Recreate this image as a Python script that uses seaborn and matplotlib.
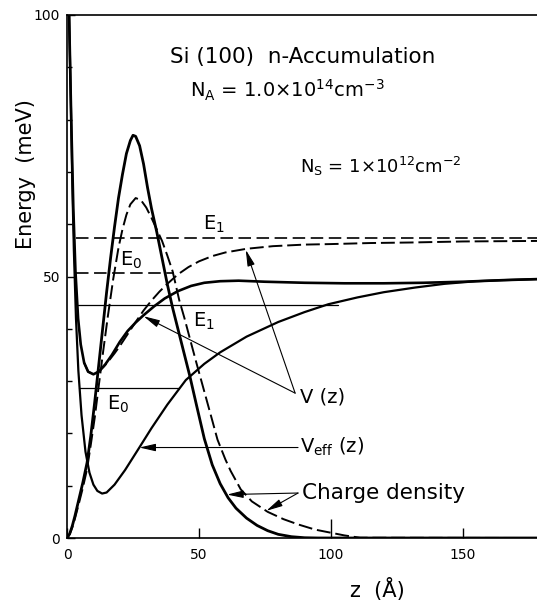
import matplotlib
matplotlib.use("Agg")
import matplotlib.pyplot as plt
import seaborn as sns

# --- data (z in Angstrom, energy in meV) ---
veff_z = [0.8, 1.5, 2.0, 2.6, 3.4, 4.3, 5.5, 7.0, 8.5, 10, 11.5, 13.3, 15, 18, 22, 27.4,
          32, 38, 45, 52, 58, 68, 80, 90, 99, 110, 120, 132, 143, 155, 165, 178]
veff_E = [100, 82, 68, 55, 42, 32, 23.5, 16.5, 12.5, 10.2, 9.0, 8.5, 8.7, 10.2, 13.0, 17.3,
          21.0, 25.5, 30.2, 33.3, 35.5, 38.5, 41.3, 43.2, 44.7, 46.0, 47.0, 47.9, 48.6, 49.1, 49.3, 49.5]

v_z = [0.8, 1.6, 2.4, 3.2, 4.2, 5.2, 6.5, 8.0, 10.0, 12.0, 14.5, 17, 20, 23, 26, 29, 33, 37,
       42, 47, 52, 58, 65, 75, 90, 105, 120, 135, 150, 165, 178]
v_E = [100, 80, 63, 51, 42, 37, 33.5, 31.8, 31.3, 31.8, 33.2, 35.0, 37.5, 39.6, 41.2, 42.6, 44.3, 45.8,
       47.2, 48.2, 48.8, 49.1, 49.2, 49.0, 48.8, 48.7, 48.7, 48.8, 49.0, 49.3, 49.5]

v_hartree_z = [6.5, 8.0, 10, 12, 14, 16, 18, 20, 23, 26, 29, 32, 35, 38, 42, 46, 50, 55, 60, 68,
               78, 90, 100, 115, 130, 150, 178]
v_hartree_E = [33.5, 31.8, 31.3, 31.8, 32.8, 34.0, 35.3, 36.7, 39.0, 41.3, 43.5, 45.4, 47.1, 48.6, 50.4,
               51.8, 52.9, 53.9, 54.6, 55.3, 55.8, 56.1, 56.2, 56.4, 56.5, 56.7, 56.8]

rho_z = [0, 1, 2, 3, 4.5, 6, 7.6, 9, 10.5, 12, 13.5, 15, 16.5, 18, 19.5, 21, 22.5, 24, 25, 26, 27.5,
         29, 30.5, 32, 34, 36, 38, 40, 42, 44, 46.5, 49, 52, 55, 58, 61, 64, 68, 72, 76, 80, 85, 90, 95, 178]
rho_E = [0, 0.8, 2.3, 4.2, 7.4, 10.6, 14.4, 19.5, 26, 33, 40, 47, 53.5, 59.5, 65, 69.5, 73.5, 76, 77, 76.8, 75,
         71.5, 67, 63, 58.5, 53.5, 48.5, 44, 40, 36, 31, 25.5, 19, 14, 10.4, 7.7, 5.7, 3.8, 2.4, 1.4, 0.7, 0.25,
         0.05, 0, 0]

rho_hartree_z = [0, 1, 2, 3, 4.5, 6, 7.6, 9, 10.5, 12, 13.7, 15.5, 17.5, 19.5, 21, 22.5, 24, 26, 28, 30,
                 32, 34, 36, 38, 40, 42.5, 44.5, 46.5, 49, 52, 55, 57, 60, 62, 65.8, 70, 76, 82, 87.5, 94,
                 100, 105, 111, 178]
rho_hartree_E = [0, 0.7, 2.0, 3.7, 6.6, 9.6, 13.2, 17.8, 23, 29, 35.7, 42.5, 49.5, 55.5, 59, 61.8, 63.8, 65,
                 64.6, 63.2, 61.2, 59, 56.8, 54, 51, 45.5, 42, 38.2, 33.5, 28, 22.5, 18.8, 15, 12.8, 9.3, 7,
                 5.0, 3.6, 2.6, 1.6, 1.0, 0.5, 0.05, 0]

# subband levels: energy, start z, end z, dashed?
level_E = [28.7, 44.5, 50.6, 57.4]
level_start = [4.6, 4.0, 3.5, 3.5]
level_end = [42.6, 102.5, 40.5, 178]
level_dashed = [False, False, True, True]

# label arrows: tip -> tail
arrow_tips = [(67.7, 55.1), (29, 42.4), (27.4, 17.3), (60.6, 8.3), (75.5, 5.2)]
arrow_tails = [(86.4, 27.7), (86.4, 27.7), (87.5, 17.3), (87.5, 8.6), (87.5, 8.6)]

plt.rcParams['lines.scale_dashes'] = False
sns.set_theme(style='ticks')
plt.rcParams['font.family'] = ['DejaVu Sans']
plt.rcParams['mathtext.default'] = 'regular'
plt.rcParams['text.color'] = 'black'
plt.rcParams['axes.labelcolor'] = 'black'
plt.rcParams['xtick.color'] = 'black'
plt.rcParams['ytick.color'] = 'black'

fig = plt.figure(figsize=(5.37, 6.02), dpi=100)
ax = fig.add_axes([67 / 537, 64 / 602, 470 / 537, 523 / 602])

long_dash = (10, 3.5)

sns.lineplot(x=veff_z, y=veff_E, ax=ax, color='black', lw=1.6, sort=False, estimator=None)
sns.lineplot(x=v_z, y=v_E, ax=ax, color='black', lw=1.9, sort=False, estimator=None)
sns.lineplot(x=v_hartree_z, y=v_hartree_E, ax=ax, color='black', lw=1.4, sort=False, estimator=None)
ax.lines[-1].set_dashes(long_dash)
sns.lineplot(x=rho_z, y=rho_E, ax=ax, color='black', lw=2.0, sort=False, estimator=None)
sns.lineplot(x=rho_hartree_z, y=rho_hartree_E, ax=ax, color='black', lw=1.4, sort=False, estimator=None)
ax.lines[-1].set_dashes(long_dash)

for E, z0, z1, d in zip(level_E, level_start, level_end, level_dashed):
    sns.lineplot(x=[z0, z1], y=[E, E], ax=ax, color='black', lw=1.2 if d else 0.9,
                 sort=False, estimator=None)
    if d:
        ax.lines[-1].set_dashes((9, 4))

ax.set_xlim(0, 178)
ax.set_ylim(0, 100)

# texts
fs = 14
ax.text(39, 92, 'Si (100)  n-Accumulation', fontsize=15.5, ha='left', va='center')
ax.text(46.5, 85.5, r'$N_A$ = 1.0×10$^{14}$cm$^{-3}$', fontsize=fs, ha='left', va='center')
ax.text(88.3, 71, r'$N_S$ = 1×10$^{12}$cm$^{-2}$', fontsize=13, ha='left', va='center')
ax.text(51.5, 60, r'$E_1$', fontsize=fs, ha='left', va='center')
ax.text(20, 53, r'$E_0$', fontsize=fs, ha='left', va='center')
ax.text(47.7, 41.5, r'$E_1$', fontsize=fs, ha='left', va='center')
ax.text(15.2, 25.6, r'$E_0$', fontsize=fs, ha='left', va='center')
ax.text(88.3, 27, 'V (z)', fontsize=fs, ha='left', va='center')
ax.text(88.3, 17.4, r'$V_{eff}$ (z)', fontsize=fs, ha='left', va='center')
ax.text(89, 8.6, 'Charge density', fontsize=15.5, ha='left', va='center')

arrow = dict(arrowstyle='-|>,head_length=0.7,head_width=0.16', color='black', lw=0.8,
             shrinkA=0, shrinkB=0, mutation_scale=14)
for tip, tail in zip(arrow_tips, arrow_tails):
    ax.annotate('', xy=tip, xytext=tail, arrowprops=arrow)

# axes styling
ax.spines['right'].set_visible(False)
for s in ['left', 'bottom', 'top']:
    ax.spines[s].set_linewidth(1.2)
    ax.spines[s].set_color('black')
ax.set_xticks([0, 50, 100, 150])
ax.set_yticks([0, 50, 100])
ax.set_yticks(range(0, 101, 10), minor=True)
ax.tick_params(axis='both', which='major', direction='in', labelsize=10,
               width=1.0, top=False, right=False)
ax.tick_params(axis='y', which='major', length=6, pad=5)
ax.tick_params(axis='y', which='minor', direction='in', length=3.6, width=1.0)
ax.tick_params(axis='x', which='major', length=7, pad=7)
for t, v in zip(ax.xaxis.get_major_ticks(), [0, 50, 100, 150]):
    if v == 100:
        t.tick1line.set_markersize(14)

ax.set_xlabel('z  (Å)', fontsize=15, va='center')
ax.set_ylabel('Energy  (meV)', fontsize=15, va='center')
ax.xaxis.set_label_coords(0.66, -0.099)
ax.yaxis.set_label_coords(-0.088, 0.696)

fig.savefig('out.png', dpi=100)
